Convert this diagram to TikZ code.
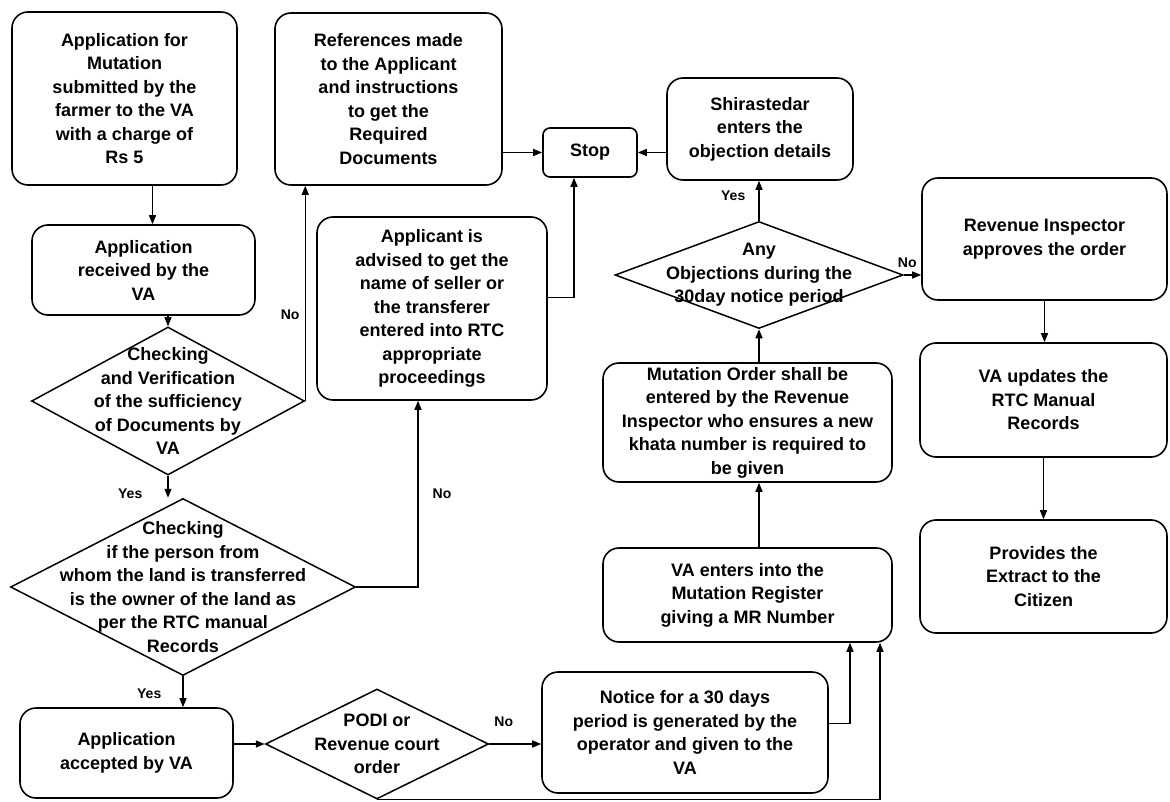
\documentclass[tikz,border=0pt]{standalone}
\usepackage{fontspec}
\setmainfont{Liberation Sans}
\usetikzlibrary{arrows.meta,positioning,shapes.geometric,calc}
\tikzset{
  mutbox/.style  = {rectangle, rounded corners=16pt, draw=black, line width=1.6pt,
                    fill=white, align=center, inner sep=2pt,
                    font=\fontsize{18}{23.5}\selectfont\bfseries},
  mutstop/.style = {mutbox, rounded corners=7pt},
  mutdec/.style  = {diamond, draw=black, line width=1.5pt, fill=white, inner sep=0pt},
  muttxt/.style  = {align=center, inner sep=0pt, font=\fontsize{18}{23.5}\selectfont\bfseries},
  mutflow/.style = {-{Triangle[length=9pt,width=7pt]}, draw=black, line width=1.4pt},
  mutlbl/.style  = {font=\fontsize{14}{16}\selectfont\bfseries, inner sep=1pt},
}
\begin{document}
\begin{tikzpicture}[x=1pt,y=-1pt]
  \useasboundingbox[fill=white] (0,0) rectangle (1170,802);

  \node[mutbox, minimum width=225pt, minimum height=173pt] (app)  at (124.5,98.5)
       {Application for\\Mutation\\submitted by the\\farmer to the VA\\with a charge of\\Rs 5};
  \node[mutbox, minimum width=223pt, minimum height=90pt]  (recv) at (143.5,270)
       {Application\\received by the\\VA};
  \node[mutdec, minimum width=273pt, minimum height=148pt,
        label={[muttxt]center:{Checking\\and Verification\\of the sufficiency\\of Documents by\\VA}}]
       (chk1) at (168,401) {};
  \node[mutbox, minimum width=227pt, minimum height=172pt] (ref)  at (388.5,99)
       {References made\\to the Applicant\\and instructions\\to get the\\Required\\Documents};
  \node[mutstop, minimum width=94pt, minimum height=49pt]  (stop) at (590,152.5) {Stop};
  \node[mutbox, minimum width=186pt, minimum height=102pt] (shir) at (760,129)
       {Shirastedar\\enters the\\objection details};
  \node[mutbox, minimum width=230pt, minimum height=183pt] (adv)  at (432,308.5)
       {Applicant is\\advised to get the\\name of seller or\\the transferer\\entered into RTC\\appropriate\\proceedings};
  \node[mutdec, minimum width=345pt, minimum height=177pt,
        label={[muttxt]center:{Checking\\if the person from\\whom the land is transferred\\is the owner of the land as\\per the RTC manual\\Records}}]
       (chk2) at (183,587) {};
  \node[mutbox, minimum width=213pt, minimum height=90pt]  (acc)  at (126.5,753)
       {Application\\accepted by VA};
  \node[mutdec, minimum width=223pt, minimum height=110pt,
        label={[muttxt]center:{PODI or\\Revenue court\\order}}]
       (podi) at (377,744) {};
  \node[mutbox, minimum width=286pt, minimum height=121pt] (notice) at (685,732.5)
       {Notice for a 30 days\\period is generated by the\\operator and given to the\\VA};
  \node[mutbox, minimum width=289pt, minimum height=94pt]  (mreg) at (747.5,595)
       {VA enters into the\\Mutation Register\\giving a MR Number};
  \node[mutbox, minimum width=289pt, minimum height=119pt] (mord) at (747.5,422.5)
       {Mutation Order shall be\\entered by the Revenue\\Inspector who ensures a new\\khata number is required to\\be given};
  \node[mutdec, minimum width=288pt, minimum height=107pt,
        label={[muttxt]center:{Any\\Objections during the\\30day notice period}}]
       (obj) at (759,275) {};
  \node[mutbox, minimum width=245pt, minimum height=122pt] (rinsp) at (1044.5,239)
       {Revenue Inspector\\approves the order};
  \node[mutbox, minimum width=247pt, minimum height=114pt] (vaupd) at (1043.5,400)
       {VA updates the\\RTC Manual\\Records};
  \node[mutbox, minimum width=247pt, minimum height=113pt] (extr)  at (1043.5,576.5)
       {Provides the\\Extract to the\\Citizen};

  \coordinate (appout) at ([xshift=28pt]app.south);
  \coordinate (advout) at ([yshift=11pt]adv.east);
  \coordinate (noteout) at ([yshift=9pt]notice.east);

  \draw[mutflow] (appout) -- (appout |- recv.north);
  \draw[mutflow] (recv.south -| chk1.north) -- (chk1.north);
  \draw[mutflow] (chk1.east) -- node[mutlbl, pos=0.4, left=4pt]{No} (chk1.east |- ref.south);
  \draw[mutflow] (chk1.south) -- node[mutlbl, pos=0.8, left=24pt]{Yes} (chk1.south |- chk2.north);
  \draw[mutflow] (ref.east |- stop.west) -- (stop.west);
  \draw[mutflow] (shir.west |- stop.east) -- (stop.east);
  \draw[mutflow] (advout) -| ([xshift=-16pt]stop.south);
  \draw[mutflow] (chk2.east) -| node[mutlbl, pos=0.75, right=13pt]{No} ([xshift=-14pt]adv.south);
  \draw[mutflow] (chk2.south) -- node[mutlbl, pos=0.55, left=20pt]{Yes} (chk2.south |- acc.north);
  \draw[mutflow] (acc.east |- podi.west) -- (podi.west);
  \draw[mutflow] (podi.east) -- node[mutlbl, pos=0.28, above=16pt]{No} (podi.east -| notice.west);
  \draw[mutflow] (noteout) -| ([xshift=102.5pt]mreg.south);
  \draw[mutflow] (podi.south) -| ([xshift=132.5pt]mreg.south);
  \draw[mutflow] (mreg.north -| obj) -- (mord.south -| obj);
  \draw[mutflow] (mord.north -| obj.south) -- (obj.south);
  \draw[mutflow] (obj.north) -- node[mutlbl, pos=0.63, left=12pt]{Yes} (obj.north |- shir.south);
  \draw[mutflow] (obj.east) -- node[mutlbl, pos=0.2, above=6pt]{No} (obj.east -| rinsp.west);
  \draw[mutflow] (rinsp.south) -- (rinsp.south |- vaupd.north);
  \draw[mutflow] (vaupd.south) -- (vaupd.south |- extr.north);
\end{tikzpicture}
\end{document}
